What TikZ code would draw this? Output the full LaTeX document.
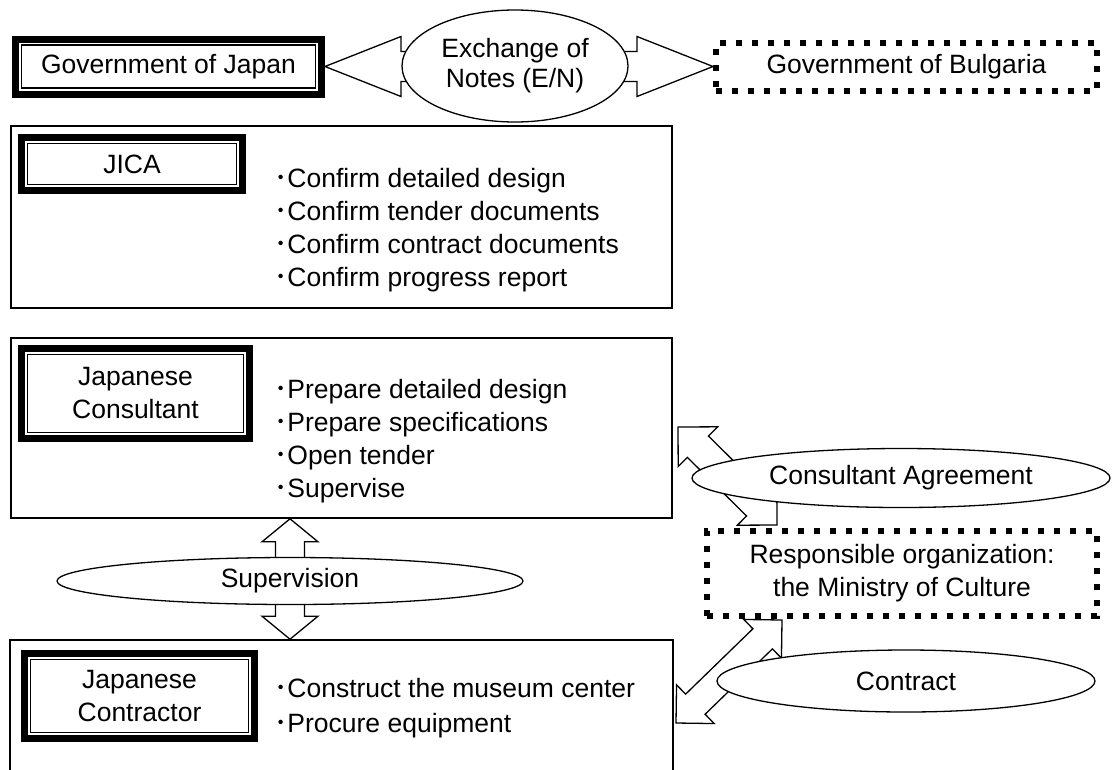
\documentclass[tikz,border=0pt]{standalone}
\usepackage{fontspec}
\setmainfont{Liberation Sans}
\newfontfamily\cjk{Noto Sans CJK JP}
\usetikzlibrary{calc,shapes.geometric,backgrounds}

\newcommand{\bul}{{\cjk ･}}
\newcommand{\blockarrow}[5]{%
  \draw[line width=1.3pt,fill=white] (#1)
    -- ($(#1)!#3!(#2)!#4!90:(#2)$) -- ($(#1)!#3!(#2)!#5!90:(#2)$)
    -- ($(#2)!#3!(#1)!#5!-90:(#1)$) -- ($(#2)!#3!(#1)!#4!-90:(#1)$)
    -- (#2)
    -- ($(#2)!#3!(#1)!#4!90:(#1)$) -- ($(#2)!#3!(#1)!#5!90:(#1)$)
    -- ($(#1)!#3!(#2)!#5!-90:(#2)$) -- ($(#1)!#3!(#2)!#4!-90:(#2)$)
    -- cycle;}

\begin{document}
\begin{tikzpicture}[x=1pt,y=-1pt,
  every node/.style={font=\fontsize{26.5}{33}\selectfont},
  bigbox/.style={draw,line width=1.6pt,inner sep=0pt},
  namebox/.style={inner sep=0pt,outer sep=0pt,align=center},
  dotbox/.style={draw,line width=6pt,dash pattern=on 6pt off 10pt,inner sep=0pt,align=center},
  bubble/.style={ellipse,draw,line width=1.3pt,fill=white,inner sep=0pt,align=center}]
\useasboundingbox (0,0) rectangle (1113,769);
\clip (0,0) rectangle (1113,769);

\node (jicabox) [bigbox,minimum width=661pt,minimum height=182pt] at (341.5,217) {};
\node (consbox) [bigbox,minimum width=661pt,minimum height=180pt] at (341.5,428) {};
\node (contrbox) [bigbox,minimum width=663pt,minimum height=160pt] at (341.5,720) {};

\node (japan) [namebox,minimum width=313pt,minimum height=62pt] at (168.5,66.5) {Government of Japan};
\node (jica) [namebox,minimum width=228pt,minimum height=60pt] at (132,164) {JICA};
\node (cons) [namebox,minimum width=235pt,minimum height=97pt] at (135.5,393.5) {Japanese\\Consultant};
\node (contr) [namebox,minimum width=237pt,minimum height=92pt] at (139.5,696) {Japanese\\Contractor};
\foreach \n in {japan,jica,cons,contr} {
  \draw[line width=7pt] ([shift={(3.5,3.5)}]\n.north west) rectangle ([shift={(-3.5,-3.5)}]\n.south east);
  \draw[line width=1.2pt] ([shift={(9.5,9.5)}]\n.north west) rectangle ([shift={(-9.5,-9.5)}]\n.south east);
}

\node (jicalist) [anchor=west,inner sep=0pt,align=left] at (274,230) {\bul Confirm detailed design\\
\bul Confirm tender documents\\
\bul Confirm contract documents\\
\bul Confirm progress report};
\node (conslist) [anchor=west,inner sep=0pt,align=left] at (274,441) {\bul Prepare detailed design\\
\bul Prepare specifications\\
\bul Open tender\\
\bul Supervise};
\node (contrlist) [anchor=west,inner sep=0pt,align=left] at (274,708) {\bul Construct the museum center\\[2pt]
\bul Procure equipment};

\node (bulgaria) [dotbox,minimum width=381pt,minimum height=48pt] at (906.5,66.5) {Government of Bulgaria};
\node (resp) [dotbox,minimum width=390pt,minimum height=85pt] at (902,573.5) {Responsible organization:\\the Ministry of Culture};

\node (exch) [bubble,minimum width=226pt,minimum height=112pt] at (515,66) {Exchange of\\[-3pt]Notes (E/N)};
\node (sup) [bubble,minimum width=466pt,minimum height=47pt] at (290,581) {Supervision};
\node (agree) [bubble,minimum width=418pt,minimum height=59pt] at (901,478) {Consultant Agreement};
\node (contract) [bubble,minimum width=378pt,minimum height=62pt] at (906,681) {Contract};

\coordinate (s1) at (sup |- consbox.south);
\coordinate (s2) at (sup |- contrbox.north);
\coordinate (ca1) at (678,427);
\coordinate (ca2) at (777,525);
\coordinate (ct1) at (782,620);
\coordinate (ct2) at (676,723);
\begin{pgfonlayer}{background}
\blockarrow{japan.east}{bulgaria.west}{76pt}{30pt}{15pt}
\blockarrow{s1}{s2}{23pt}{28pt}{14.5pt}
\blockarrow{ca1}{ca2}{28pt}{28pt}{15pt}
\blockarrow{ct1}{ct2}{27pt}{27pt}{14pt}
\end{pgfonlayer}
\end{tikzpicture}
\end{document}
